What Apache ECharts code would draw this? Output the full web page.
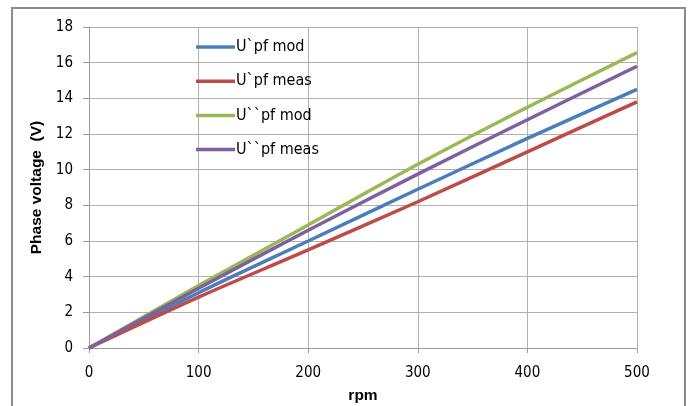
<!DOCTYPE html>
<html>
<head>
<meta charset="utf-8">
<script src="https://cdn.jsdelivr.net/npm/echarts@6/dist/echarts.min.js"></script>
<style>
  html, body { margin: 0; padding: 0; background: #fff; }
  #chart_box { width: 691px; height: 406px; }
</style>
</head>
<body>
<div id="chart_box"></div>
<script>
// rpm points
var rpm = [0, 100, 200, 300, 400, 500];
// phase voltage values
var upfMod = [0, 3.1, 6.0, 8.9, 11.75, 14.5];
var upfMeas = [0, 2.85, 5.5, 8.2, 11.0, 13.8];
var uupfMod = [0, 3.5, 6.9, 10.3, 13.5, 16.56];
var uupfMeas = [0, 3.35, 6.6, 9.75, 12.8, 15.8];
var seriesNames = ["U`pf mod", "U`pf meas", "U``pf mod", "U``pf meas"];
var seriesColors = ["#4a7ebb", "#be4b48", "#98b954", "#7d60a0"];

var font = "'Liberation Sans Narrow', 'DejaVu Sans Condensed', sans-serif";
var boldFont = "'Liberation Sans', sans-serif";

function pairs(ys) {
  return rpm.map(function (x, i) { return [x, ys[i]]; });
}

var myChart = echarts.init(document.getElementById("chart_box"));
var allData = [upfMod, upfMeas, uupfMod, uupfMeas];

var option = {
  animation: false,
  color: seriesColors,
  textStyle: { fontFamily: font },
  // outer frame of the chart
  graphic: [{
    type: "rect",
    shape: { x: 12, y: 8, width: 673, height: 420 },
    style: { fill: "none", stroke: "#8c8c8c", lineWidth: 2 },
    silent: true
  }],
  grid: { left: 89, right: 54, top: 27, bottom: 58, outerBoundsMode: "none" },
  legend: {
    orient: "vertical",
    left: 196,
    top: 39,
    padding: 0,
    itemWidth: 39,
    itemHeight: 16,
    itemGap: 18.2,
    icon: "path://M0,0H39V3.5H0Z",
    data: seriesNames,
    textStyle: { fontFamily: font, fontSize: 16, color: "#000", padding: [0, 0, 0, -4] }
  },
  xAxis: {
    type: "value",
    min: 0,
    max: 500,
    interval: 100,
    name: "rpm",
    nameLocation: "middle",
    nameGap: 40,
    nameTextStyle: { fontFamily: boldFont, fontWeight: "bold", fontSize: 15.5, color: "#000" },
    axisLine: { lineStyle: { color: "#9a9a9a", width: 1 } },
    axisTick: { show: true, length: 5, lineStyle: { color: "#9a9a9a" } },
    axisLabel: { fontSize: 15, color: "#000", margin: 18 },
    splitLine: { show: true, lineStyle: { color: "#b0b0b0", width: 1 } }
  },
  yAxis: {
    type: "value",
    min: 0,
    max: 18,
    interval: 2,
    name: "Phase voltage  (V)",
    nameLocation: "middle",
    nameGap: 44.5,
    nameTextStyle: { fontFamily: boldFont, fontWeight: "bold", fontSize: 15.5, color: "#000" },
    axisLine: { show: true, lineStyle: { color: "#9a9a9a", width: 1 } },
    axisTick: { show: true, length: 6, lineStyle: { color: "#9a9a9a" } },
    axisLabel: { fontSize: 15, color: "#000", margin: 16 },
    splitLine: { show: true, lineStyle: { color: "#b0b0b0", width: 1 } }
  },
  series: seriesNames.map(function (name, i) {
    return {
      name: name,
      type: "line",
      smooth: 0.3,
      showSymbol: false,
      symbol: "none",
      data: pairs(allData[i]),
      lineStyle: { width: 3.5, color: seriesColors[i] }
    };
  })
};
myChart.setOption(option);
</script>
</body>
</html>
